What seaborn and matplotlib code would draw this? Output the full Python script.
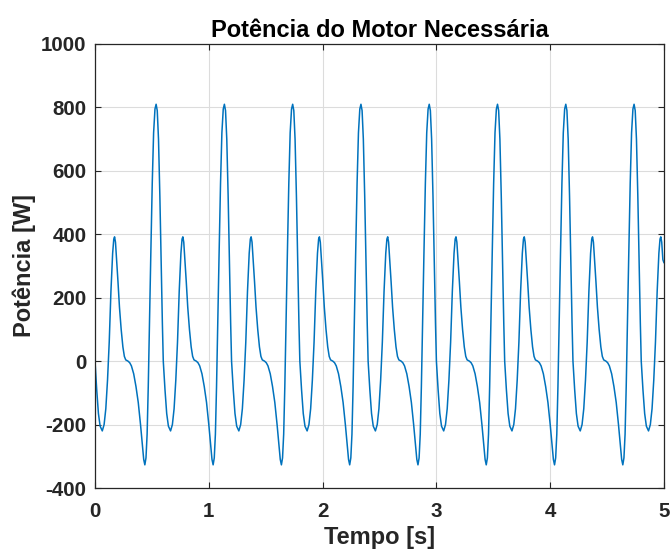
import numpy as np
import pandas as pd
import seaborn as sns
from matplotlib import pyplot as plt

# one cycle of the power curve (offset in s, power in W)
cycle_t = [0.000, 0.015, 0.030, 0.045, 0.064, 0.080, 0.095, 0.110, 0.125, 0.140,
           0.155, 0.165, 0.172, 0.180, 0.190, 0.202, 0.215, 0.230, 0.245, 0.258,
           0.270, 0.290, 0.305, 0.320, 0.340, 0.360, 0.380, 0.400, 0.415, 0.428,
           0.438, 0.448, 0.458, 0.468, 0.478, 0.490, 0.503, 0.515, 0.527, 0.537,
           0.547, 0.558, 0.570, 0.582, 0.592]
cycle_p = [0, -90, -165, -205, -220, -200, -150, -60, 60, 220,
           340, 385, 392, 375, 320, 250, 170, 100, 45, 15,
           4, 0, -5, -15, -40, -80, -130, -200, -260, -310,
           -327, -305, -230, -80, 110, 330, 560, 720, 795, 810,
           790, 700, 520, 300, 120]
# start of each cycle in the 5 s window
cycle_start = [0.0, 0.6, 1.2, 1.8, 2.4, 3.0, 3.6, 4.2, 4.8]
t_end = 5.0
p_end = 310

COR = '#0072BD'
CINZA = '#262626'


def main():
    partes = []
    for t0 in cycle_start:
        parte = pd.DataFrame({'t': np.array(cycle_t) + t0, 'P': cycle_p})
        partes.append(parte[parte['t'] < t_end])
    partes.append(pd.DataFrame({'t': [t_end], 'P': [p_end]}))
    df = pd.concat(partes, ignore_index=True)

    sns.set_theme(style='whitegrid')
    plt.rcParams['font.family'] = ['Liberation Sans', 'DejaVu Sans']
    plt.rcParams['axes.unicode_minus'] = False

    fig = plt.figure(figsize=(6.7, 5.53), dpi=100)
    ax = fig.add_axes([95 / 670, 1 - 488 / 553, 569 / 670, 444 / 553])
    sns.lineplot(data=df, x='t', y='P', ax=ax, color=COR, linewidth=1.1,
                 estimator=None, sort=False)

    ax.set_xlim(0, 5)
    ax.set_ylim(-400, 1000)
    ax.set_xticks(range(0, 6))
    ax.set_yticks(range(-400, 1001, 200))
    ax.set_facecolor('white')
    ax.grid(True, color='#dcdcdc', linewidth=0.8)
    for s in ax.spines.values():
        s.set_visible(True)
        s.set_color(CINZA)
        s.set_linewidth(0.9)
    ax.tick_params(direction='in', length=4, width=0.8, colors=CINZA,
                   top=True, right=True, bottom=True, left=True,
                   labelsize=14.8, pad=6)
    ax.tick_params(axis='x', pad=10)
    for lab in ax.get_xticklabels() + ax.get_yticklabels():
        lab.set_fontweight('bold')

    ax.set_xlabel('Tempo [s]', fontsize=17, fontweight='bold', color=CINZA, labelpad=3.5)
    ax.set_ylabel('Potência [W]', fontsize=17, fontweight='bold', color=CINZA, labelpad=4)
    ax.set_title('Potência do Motor Necessária', fontsize=17, fontweight='bold',
                 color='black', pad=5)

    fig.savefig('out.png', dpi=100, facecolor='white')


if __name__ == '__main__':
    main()
